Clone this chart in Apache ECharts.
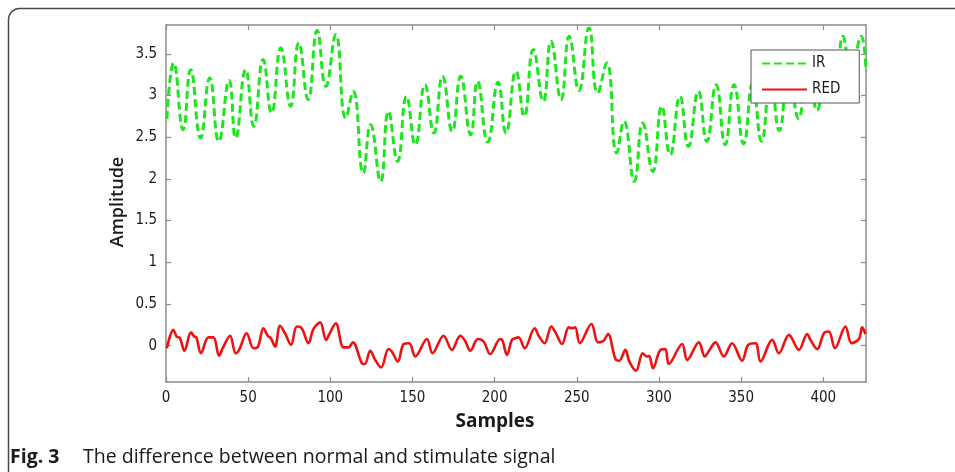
<!DOCTYPE html>
<html>
<head>
<meta charset="utf-8">
<script src="https://cdn.jsdelivr.net/npm/echarts@6/dist/echarts.min.js"></script>
<style>html,body{margin:0;padding:0;background:#fff;}#c{width:955px;height:472px;}</style>
</head>
<body>
<div id="c"></div>
<script>
// Samples (x) and amplitude values
var irSamples = [0.5,4.7,10.4,15,21,26.6,32.1,38.4,42.4,48.5,53.4,59.1,64.2,69.9,75.8,80.8,86.5,92,97.3,103.3,109.4,113.9,120,124.5,130.6,135.4,140.9,146.4,151.7,157.6,163,168.3,174.2,179.3,185.4,189.6,195.8,202.1,206.9,213,218,223.5,229.6,234.3,240.4,245.4,251.3,257.4,262.7,268.2,274.3,278.7,285,290.1,296.2,301.7,306.8,312.8,317.9,324,329.1,334.8,340.3,345.7,351.5,357,362.4,368,373.2,379,385,390.5,396.2,401.5,407,412,417,423,426];
var irValues  = [2.72,3.39,2.59,3.31,2.49,3.21,2.45,3.18,2.49,3.31,2.63,3.43,2.79,3.57,2.87,3.63,2.95,3.78,3.11,3.73,2.73,3.05,2.07,2.65,1.97,2.81,2.21,2.99,2.41,3.13,2.55,3.23,2.57,3.23,2.53,3.17,2.44,3.16,2.55,3.29,2.75,3.55,2.93,3.65,2.95,3.71,3.06,3.81,3.03,3.39,2.31,2.69,1.97,2.67,2.09,2.87,2.29,2.99,2.39,3.05,2.45,3.13,2.41,3.13,2.42,3.15,2.45,3.2,2.58,3.3,2.72,3.35,2.82,3.42,2.95,3.71,3.3,3.71,3.29];

var redSamples = [0.5,4.5,6.5,8.5,11.2,15.2,17.2,18.5,21.3,25.8,28.9,32.3,34.5,39,42.4,44.5,49.1,53.2,56,59.3,61.9,63.8,66.4,69.4,72.4,76.1,79.6,82.6,86.7,89.7,93.8,97.4,99.7,103.3,108,111,113.7,119.2,121,124.3,127.3,130.9,135.4,137.4,141.1,144.6,148,151.7,158.8,162.2,168.9,174,179.1,182,185.2,189.8,193.3,197.3,203.4,204.8,207.5,210.5,212.5,214.6,218.3,224.4,226.8,230.4,234.5,237,241,245.1,247,249,251.8,258.9,262.9,266.3,269,273.5,275.8,279.6,282,286.1,290.1,292.8,294,296.4,300.9,303.9,306,314.1,317.2,324.3,327.9,330.2,334.4,339.5,344.5,350.6,354.3,358.8,361.8,368.9,373,379.1,385.2,390.2,392.2,396.3,400.4,403.4,407.1,413.5,417.2,421.7,423.7,425.7];
var redValues  = [-0.03,0.19,0.11,0.09,-0.06,0.16,0.11,0.10,-0.09,0.10,0.10,-0.12,-0.03,0.12,-0.09,-0.05,0.15,-0.03,-0.01,0.21,0.12,0.09,-0.01,0.24,0.15,0.01,0.23,0.21,0.03,0.20,0.28,0.07,0.15,0.27,-0.02,-0.02,0.04,-0.21,-0.22,-0.06,-0.17,-0.26,-0.04,-0.07,-0.19,0.02,0.03,-0.13,0.08,-0.09,0.12,-0.05,0.12,0.06,-0.06,0.08,0.05,-0.10,0.08,0.06,-0.11,0.07,0.09,0.10,-0.03,0.21,0.12,0.03,0.23,0.16,0.02,0.22,0.21,0.22,0.03,0.26,0.04,0.06,0.14,-0.16,-0.18,-0.05,-0.19,-0.30,-0.09,-0.13,-0.12,-0.27,-0.05,-0.04,-0.22,0.02,-0.17,0.04,-0.13,-0.07,0.04,-0.13,0.03,-0.18,0.01,0.03,-0.19,0.07,-0.09,0.13,-0.05,0.14,0.07,-0.04,0.15,0.17,-0.03,0.23,0.03,0.08,0.22,0.14];

var xTicks = [0,50,100,150,200,250,300,350,400];
var yTicks = [0,0.5,1,1.5,2,2.5,3,3.5];

function zip(a, b){ return a.map(function(v,i){ return [v, b[i]]; }); }

var tickFont = "'DejaVu Sans Condensed','Liberation Sans Narrow',sans-serif";
var axisColor = '#8c8c8c';

var chart = echarts.init(document.getElementById('c'), null, {renderer:'canvas'});
var baseX = {
  type:'value', min:0, max:426,
  axisLine:{show:true, onZero:false, lineStyle:{color:axisColor, width:1.5}},
  axisTick:{show:true, inside:true, length:5, customValues:xTicks, lineStyle:{color:axisColor, width:1.2}},
  splitLine:{show:false}
};
var baseY = {
  type:'value', min:-0.435, max:3.845,
  axisLine:{show:true, onZero:false, lineStyle:{color:axisColor, width:1.5}},
  axisTick:{show:true, inside:true, length:5, customValues:yTicks, lineStyle:{color:axisColor, width:1.2}},
  splitLine:{show:false}
};
var option = {
  animation:false,
  backgroundColor:'#fff',
  grid:{left:166, right:89, top:25, bottom:90},
  xAxis:[
    Object.assign({}, baseX, {position:'bottom',
      axisLabel:{show:true, customValues:xTicks, margin:9, color:'#1a1a1a', fontSize:15, fontFamily:tickFont}}),
    Object.assign({}, baseX, {position:'top', axisLabel:{show:false}})
  ],
  yAxis:[
    Object.assign({}, baseY, {position:'left',
      axisLabel:{show:true, customValues:yTicks, margin:9, color:'#1a1a1a', fontSize:15, fontFamily:tickFont}}),
    Object.assign({}, baseY, {position:'right', axisLabel:{show:false}})
  ],
  legend:{
    left:751, top:50, orient:'vertical',
    backgroundColor:'#fff', borderColor:'#555', borderWidth:1,
    padding:[6,19,6,10], itemWidth:45, itemHeight:14, itemGap:11,
    itemStyle:{opacity:0},
    textStyle:{fontFamily:tickFont, fontSize:15, color:'#1a1a1a'},
    data:['IR','RED']
  },
  series:[
    {name:'IR', type:'line', data:zip(irSamples, irValues), smooth:0.5, symbol:'none',
     lineStyle:{color:'#1ee61e', width:3, type:[8,4]}, itemStyle:{color:'#1ee61e'}, z:3},
    {name:'RED', type:'line', data:zip(redSamples, redValues), smooth:0.35, symbol:'none',
     lineStyle:{color:'#f01010', width:2.6}, itemStyle:{color:'#f01010'}, z:2}
  ],
  graphic:[
    {type:'rect', shape:{x:8.5, y:8.5, width:1100, height:1000, r:11}, style:{fill:'none', stroke:'#4a4a4a', lineWidth:1.5}, silent:true},
    {type:'text', x:118, y:202, rotation:Math.PI/2,
     style:{text:'Amplitude', font:"600 18px 'Open Sans', sans-serif", fill:'#1a1a1a', align:'center', verticalAlign:'middle'}},
    {type:'text', x:495, y:422,
     style:{text:'Samples', font:"bold 19px 'Open Sans', sans-serif", fill:'#1a1a1a', align:'center', verticalAlign:'middle'}},
    {type:'text', x:10, y:457,
     style:{text:'{b|Fig. 3}{n|The difference between normal and stimulate signal}', verticalAlign:'middle',
       rich:{b:{font:"bold 19.5px 'Open Sans', sans-serif", fill:'#1a1a1a', width:73}, n:{font:"19.5px 'Open Sans', sans-serif", fill:'#1a1a1a'}}}}
  ]
};
chart.setOption(option);
</script>
</body>
</html>
